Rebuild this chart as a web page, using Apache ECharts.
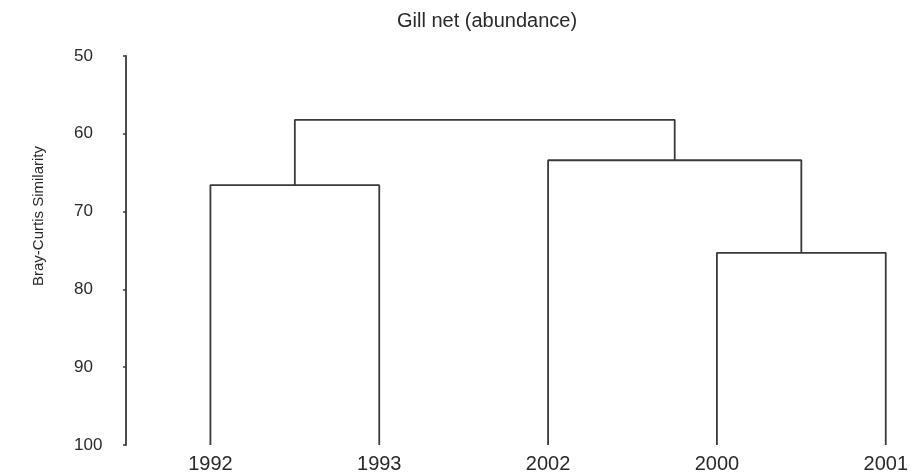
<!DOCTYPE html>
<html>
<head>
<meta charset="utf-8">
<script src="https://cdn.jsdelivr.net/npm/echarts@6/dist/echarts.min.js"></script>
<style>
html,body{margin:0;padding:0;background:#fff;}
#chart{width:911px;height:474px;}
</style>
</head>
<body>
<div id="chart"></div>
<script>
// Leaves in dendrogram order
const leaves = ['1992', '1993', '2002', '2000', '2001'];
// Merges: node ids 0-4 are leaves, merge k creates node 5+k
const mergeA = [0, 3, 2, 5];
const mergeB = [1, 4, 6, 7];
const mergeSimilarity = [66.6, 75.3, 63.4, 58.2];
const yTicks = [50, 60, 70, 80, 90, 100];
const leafSimilarity = 100;

// Node positions (x = leaf index / mean of children, y = similarity)
const nodeX = leaves.map((_, i) => i);
const nodeY = leaves.map(() => leafSimilarity);
const series = [];
for (let k = 0; k < mergeA.length; k++) {
  const a = mergeA[k], b = mergeB[k], h = mergeSimilarity[k];
  series.push({
    type: 'line',
    symbol: 'none',
    silent: true,
    clip: false,
    lineStyle: { color: '#3a3a3a', width: 1.8 },
    data: [[nodeX[a], nodeY[a]], [nodeX[a], h], [nodeX[b], h], [nodeX[b], nodeY[b]]]
  });
  nodeX.push((nodeX[a] + nodeX[b]) / 2);
  nodeY.push(h);
}
const leafIdx = leaves.map((_, i) => i);

const chart = echarts.init(document.getElementById('chart'));
chart.setOption({
  animation: false,
  backgroundColor: '#ffffff',
  textStyle: { fontFamily: 'Liberation Sans, Arial, sans-serif' },
  title: {
    text: 'Gill net (abundance)',
    left: 482, top: 6, textAlign: 'center',
    textStyle: { fontSize: 20, fontWeight: 'normal', color: '#2a2a2a', fontFamily: 'Liberation Sans, Arial, sans-serif' }
  },
  graphic: [{
    type: 'text',
    x: 39, y: 216,
    rotation: Math.PI / 2,
    style: {
      text: 'Bray-Curtis Similarity',
      fill: '#2a2a2a',
      font: '15px "Liberation Sans", Arial, sans-serif',
      align: 'center',
      verticalAlign: 'middle'
    }
  }],
  grid: { left: 126, top: 56, height: 392, right: 0, containLabel: false },
  xAxis: {
    type: 'value',
    min: -0.5, max: 4.137,
    axisLine: { show: false },
    axisTick: { show: false },
    splitLine: { show: false },
    axisLabel: {
      customValues: leafIdx,
      formatter: v => leaves[Math.round(v)],
      fontSize: 20, color: '#2a2a2a', margin: 9,
      showMinLabel: true, showMaxLabel: true, hideOverlap: false
    }
  },
  yAxis: {
    type: 'value',
    inverse: true,
    min: yTicks[0], max: yTicks[yTicks.length - 1], interval: 10,
    axisLine: { show: true, onZero: false, lineStyle: { color: '#3a3a3a', width: 1.8 } },
    axisTick: { show: true, length: 3, lineStyle: { color: '#3a3a3a', width: 1.5 } },
    splitLine: { show: false },
    axisLabel: { fontSize: 17, color: '#2a2a2a', margin: 52, align: 'left' }
  },
  series: series
});
</script>
</body>
</html>
